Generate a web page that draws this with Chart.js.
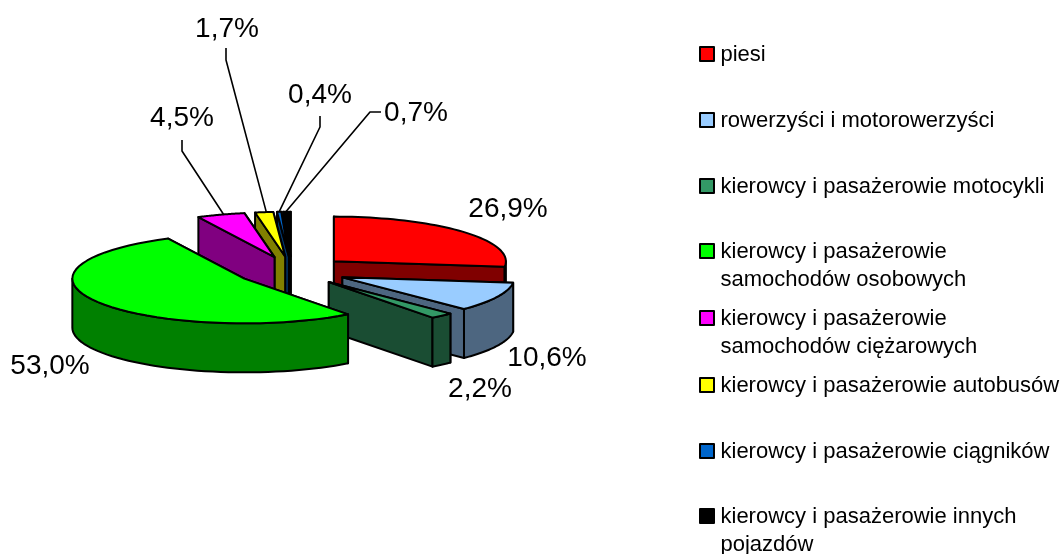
<!DOCTYPE html>
<html lang="pl"><head><meta charset="utf-8">
<style>html,body{margin:0;padding:0;background:#fff}canvas{display:block}</style>
<script src="https://cdn.jsdelivr.net/npm/chart.js@4/dist/chart.umd.min.js"></script>
</head><body><canvas id="c" width="1062" height="554"></canvas>
<script>
const categories = ["piesi","rowerzyści i motorowerzyści","kierowcy i pasażerowie motocykli",
 "kierowcy i pasażerowie samochodów osobowych","kierowcy i pasażerowie samochodów ciężarowych",
 "kierowcy i pasażerowie autobusów","kierowcy i pasażerowie ciągników","kierowcy i pasażerowie innych pojazdów"];
const values = [26.9,10.6,2.2,53.0,4.5,1.7,0.4,0.7];
const topColors = ["#FF0000","#99CCFF","#339966","#00FF00","#FF00FF","#FFFF00","#0066CC","#000000"];
const sideColors = ["#800000","#4D6680","#1A4D33","#008000","#800080","#808000","#003366","#000000"];
const legendLines = [["piesi"],["rowerzyści i motorowerzyści"],["kierowcy i pasażerowie motocykli"],
 ["kierowcy i pasażerowie","samochodów osobowych"],["kierowcy i pasażerowie","samochodów ciężarowych"],
 ["kierowcy i pasażerowie autobusów"],["kierowcy i pasażerowie ciągników"],["kierowcy i pasażerowie innych","pojazdów"]];
const legendCenters = [54,120,186,251,318,385,451,516];
const labelCenters = [[508,209],[547,358],[480,389],[50,366],[182,118],[227,29],[320,95],[416,113]];
const leaderBends = [null,null,null,null,[[182,140],[182,151]],[[226,48],[226,60]],[[320,116],[320,127]],[[381,112],[370,112]]];
const leaderAngleAt = [0,0,0,0,0.56,0.62,0.5,0.35];
const drawOrder = [7,6,5,4,0,1,2,3];
const SQUASH = 0.26, DEPTH = 49, EXPLODE = 56, RADIUS = 172;

const pie3d = {
  id:'pie3d',
  beforeDatasetDraw(chart,args){
    const ctx = chart.ctx, arcs = args.meta.data;
    ctx.save(); ctx.lineWidth = 2; ctx.lineJoin = 'round'; ctx.strokeStyle = '#000';
    for(const i of drawOrder){
      const el = arcs[i], a0 = el.startAngle, a1 = el.endAngle, R = el.outerRadius;
      const mid = (a0+a1)/2, off = el.options.offset;
      const ax = el.x + Math.cos(mid)*off, ay = el.y + Math.sin(mid)*off*SQUASH;
      const px = (a,z=0)=>[ax+Math.cos(a)*R, ay+Math.sin(a)*R*SQUASH+z];
      const poly = (pts,fill)=>{ctx.beginPath();pts.forEach((p,n)=>n?ctx.lineTo(p[0],p[1]):ctx.moveTo(p[0],p[1]));ctx.closePath();if(fill){ctx.fillStyle=fill;ctx.fill();}ctx.stroke();};
      const side = sideColors[i];
      const faces = [a0,a1].sort((p,q)=>Math.sin(p)-Math.sin(q));
      for(const a of faces) poly([[ax,ay],px(a),px(a,DEPTH),[ax,ay+DEPTH]],side);
      const wallFrom = Math.max(a0,0), wallTo = Math.min(a1,Math.PI);
      if(wallTo>wallFrom){
        const n = 48, pts=[];
        for(let s=0;s<=n;s++) pts.push(px(wallFrom+(wallTo-wallFrom)*s/n));
        for(let s=n;s>=0;s--) pts.push(px(wallFrom+(wallTo-wallFrom)*s/n,DEPTH));
        poly(pts,side);
      }
      const n=48, rim=[[ax,ay]];
      for(let s=0;s<=n;s++) rim.push(px(a0+(a1-a0)*s/n));
      poly(rim,el.options.backgroundColor);
    }
    ctx.restore();
    return false;
  },
  afterDatasetsDraw(chart){
    const ctx = chart.ctx, arcs = chart.getDatasetMeta(0).data;
    ctx.save();
    ctx.strokeStyle='#000'; ctx.lineWidth=1.6; ctx.lineJoin='round';
    leaderBends.forEach((b,i)=>{
      if(!b) return;
      const el=arcs[i], mid=(el.startAngle+el.endAngle)/2, off=el.options.offset, R=el.outerRadius;
      const t=el.startAngle+(el.endAngle-el.startAngle)*leaderAngleAt[i];
      const x=el.x+Math.cos(mid)*off+Math.cos(t)*R, y=el.y+Math.sin(mid)*off*SQUASH+Math.sin(t)*R*SQUASH;
      ctx.beginPath(); ctx.moveTo(b[0][0],b[0][1]); ctx.lineTo(b[1][0],b[1][1]); ctx.lineTo(x,y); ctx.stroke();
    });
    ctx.fillStyle='#000'; ctx.font='28px "Liberation Sans", Arial, sans-serif';
    ctx.textAlign='center'; ctx.textBaseline='middle';
    values.forEach((v,i)=>ctx.fillText(v.toFixed(1).replace('.',',')+'%',labelCenters[i][0],labelCenters[i][1]));
    ctx.font='22px "Liberation Sans", Arial, sans-serif'; ctx.textAlign='left'; ctx.textBaseline='alphabetic';
    legendLines.forEach((lines,i)=>{
      const cy=legendCenters[i];
      ctx.fillStyle=topColors[i]; ctx.fillRect(700,cy-7,14,14);
      ctx.strokeStyle='#000'; ctx.lineWidth=2; ctx.strokeRect(700,cy-7,14,14);
      ctx.fillStyle='#000';
      lines.forEach((t,n)=>ctx.fillText(t,720.5,cy+7+n*27.5));
    });
    ctx.restore();
  }
};

new Chart(document.getElementById('c'),{
  type:'pie',
  data:{labels:categories,datasets:[{data:values,backgroundColor:topColors,borderWidth:0,offset:EXPLODE,hoverOffset:0}]},
  options:{responsive:false,animation:false,events:[],radius:RADIUS,
    layout:{padding:{left:92,right:570,top:71,bottom:83}},
    plugins:{legend:{display:false},tooltip:{enabled:false},title:{display:false}}},
  plugins:[pie3d]
});
</script></body></html>
